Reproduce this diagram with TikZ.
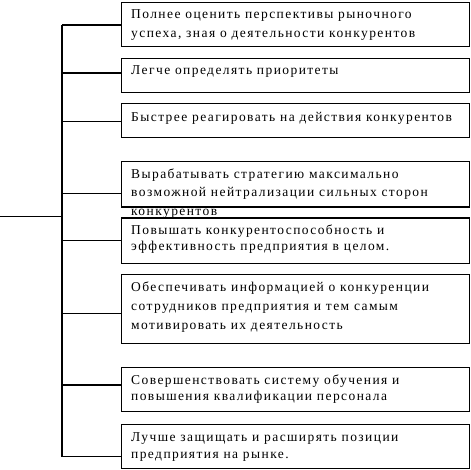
\documentclass[tikz,border=0pt]{standalone}
\usepackage{fontspec}
\setmainfont{Liberation Serif}[LetterSpace=10.5]
\begin{document}
\begin{tikzpicture}[x=1pt,y=-1pt,
  box/.style={draw,line width=1.1pt,fill=white,inner sep=0,anchor=north west},
  ln/.style={anchor=base west,inner sep=0,font=\fontsize{13.5}{15}\selectfont},
  conn/.style={line width=1.1pt}]
\useasboundingbox (0,0) rectangle (471,470);
% box 4 text first (overflow is hidden by box 5)
\node[box,minimum width=348pt,minimum height=45.5pt] (b4) at (121,161) {};
\node[ln] (l4a) at (131,178.5) {Вырабатывать стратегию максимально};
\node[ln] (l4b) at (131,197) {возможной нейтрализации сильных сторон};
\node[ln] (l4c) at (131,215.5) {конкурентов};
% boxes
\node[box,minimum width=348pt,minimum height=44pt] (b1) at (121,2) {};
\node[box,minimum width=348pt,minimum height=34pt] (b2) at (121,58) {};
\node[box,minimum width=348pt,minimum height=34pt] (b3) at (121,103) {};
\node[box,minimum width=348pt,minimum height=45.5pt] (b5) at (121,217.5) {};
\node[box,minimum width=348pt,minimum height=69pt] (b6) at (121,274) {};
\node[box,minimum width=348pt,minimum height=44pt] (b7) at (121,367) {};
\node[box,minimum width=348pt,minimum height=44pt] (b8) at (121,424) {};
% texts
\node[ln] (l1a) at (131,19) {Полнее оценить перспективы рыночного};
\node[ln] (l1b) at (131,37.5) {успеха, зная о деятельности конкурентов};
\node[ln] (l2) at (131,75) {Легче определять приоритеты};
\node[ln] (l3) at (131,122) {Быстрее реагировать на действия конкурентов};
\node[ln] (l5a) at (131,234.5) {Повышать конкурентоспособность и};
\node[ln] (l5b) at (131,251) {эффективность предприятия в целом.};
\node[ln] (l6a) at (131,291) {Обеспечивать информацией о конкуренции};
\node[ln] (l6b) at (131,310) {сотрудников предприятия и тем самым};
\node[ln] (l6c) at (131,329) {мотивировать их деятельность};
\node[ln] (l7a) at (131,384.5) {Совершенствовать систему обучения и};
\node[ln] (l7b) at (131,400.5) {повышения квалификации персонала};
\node[ln] (l8a) at (131,441) {Лучше защищать и расширять позиции};
\node[ln] (l8b) at (131,458) {предприятия на рынке.};
% trunk
\coordinate (t1) at (62,25);
\coordinate (t2) at (62,73);
\coordinate (t3) at (62,121.7);
\coordinate (t4) at (62,193.3);
\coordinate (t5) at (62,240.7);
\coordinate (t6) at (62,313.3);
\coordinate (t7) at (62,385);
\coordinate (t8) at (62,456.7);
\coordinate (tin) at (62,216.7);
\coordinate (src) at (0,216.7);
\draw[conn] (t1) -- (t8);
\draw[conn] (src) -- (tin);
\draw[conn] (t1) -- (t1 -| b1.west);
\draw[conn] (t2) -- (t2 -| b2.west);
\draw[conn] (t3) -- (t3 -| b3.west);
\draw[conn] (t4) -- (t4 -| b4.west);
\draw[conn] (t5) -- (t5 -| b5.west);
\draw[conn] (t6) -- (t6 -| b6.west);
\draw[conn] (t7) -- (t7 -| b7.west);
\draw[conn] (t8) -- (t8 -| b8.west);
\end{tikzpicture}
\end{document}
